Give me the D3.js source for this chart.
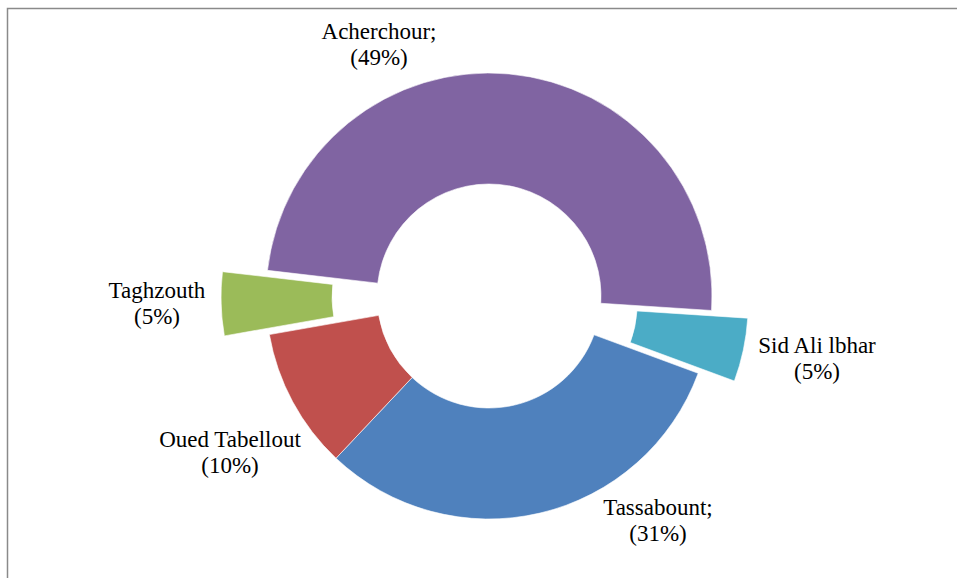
<!DOCTYPE html>
<html>
<head>
<meta charset="utf-8">
<script src="https://cdn.jsdelivr.net/npm/d3@7"></script>
<style>
  html, body { margin: 0; padding: 0; background: #fff; }
  svg { display: block; }
  .lbl text { font-family: "Liberation Serif", "Times New Roman", Times, "DejaVu Serif", serif; font-size: 23px; }
</style>
</head>
<body>
<svg id="chart" width="957" height="578"></svg>
<script>
// ---- data ----
const categories = ["Acherchour", "Sid Ali lbhar", "Tassabount", "Oued Tabellout", "Taghzouth"];
const labelNames = ["Acherchour;", "Sid Ali lbhar", "Tassabount;", "Oued Tabellout", "Taghzouth"];
const values = [49.2, 4.6, 31.4, 10.2, 4.6];
const colors = ["#8064A2", "#4BACC6", "#4F81BD", "#C0504D", "#9BBB59"];

// ---- layout ----
const W = 957, H = 578;
const cx = 489, cy = 296;
const outerR = 223, innerR = 112;
const startDeg = 276.6;
const explode = {"Sid Ali lbhar": 37, "Taghzouth": 45};
// label anchor: center x, first-line baseline
const labelPos = {
  "Acherchour": [379, 39],
  "Sid Ali lbhar": [817, 353],
  "Tassabount": [658, 515],
  "Oued Tabellout": [230, 447],
  "Taghzouth": [157, 298]
};
const lineGap = 26;

const svg = d3.select("#chart");

// frame (only top and left edges visible in reference)
svg.append("rect")
  .attr("x", 7.5).attr("y", 8.5)
  .attr("width", 1000).attr("height", 1000)
  .attr("fill", "none")
  .attr("stroke", "#8a8a8a")
  .attr("stroke-width", 1.5);

const total = d3.sum(values);
const data = categories.map((c, i) => ({name: c, label: labelNames[i], value: values[i], color: colors[i]}));

const a0 = startDeg * Math.PI / 180;
const pie = d3.pie().value(d => d.value).sort(null)
  .startAngle(a0).endAngle(a0 + 2 * Math.PI);
const arc = d3.arc().innerRadius(innerR).outerRadius(outerR);

const g = svg.append("g").attr("transform", `translate(${cx},${cy})`);

g.selectAll("path.slice")
  .data(pie(data))
  .join("path")
  .attr("class", "slice")
  .attr("d", arc)
  .attr("fill", d => d.data.color)
  .attr("stroke", "#ffffff")
  .attr("stroke-width", 0.6)
  .attr("transform", d => {
    const e = explode[d.data.name] || 0;
    const m = (d.startAngle + d.endAngle) / 2;
    return `translate(${e * Math.sin(m)},${-e * Math.cos(m)})`;
  });

// labels
const lbl = svg.append("g")
  .attr("class", "lbl")
  .attr("fill", "#000")
  .attr("text-anchor", "middle");

data.forEach(d => {
  const [x, y] = labelPos[d.name];
  const pct = Math.round(d.value / total * 100);
  const t = lbl.append("text").attr("x", x).attr("y", y);
  t.append("tspan").attr("x", x).attr("y", y).text(d.label);
  t.append("tspan").attr("x", x).attr("y", y + lineGap).text(`(${pct}%)`);
});
</script>
</body>
</html>
